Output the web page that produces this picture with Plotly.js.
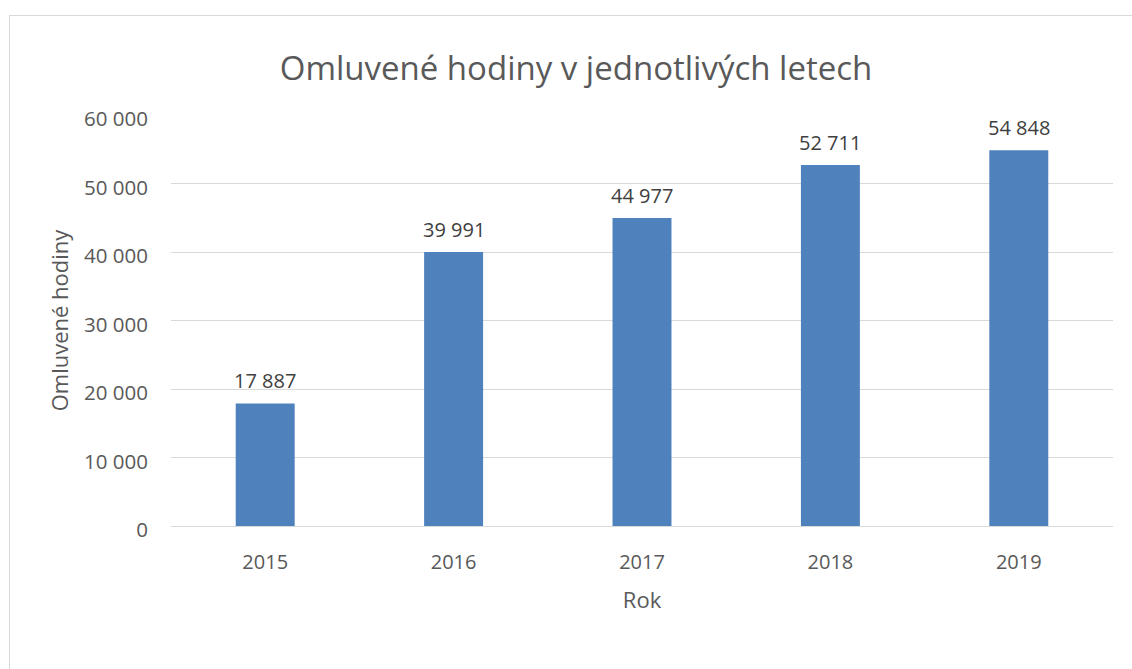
<!DOCTYPE html>
<html>
<head>
<meta charset="utf-8">
<script src="https://cdn.plot.ly/plotly-3.0.1.min.js"></script>
<style>
  html, body { margin: 0; padding: 0; background: #fff; }
  #wrap { position: relative; width: 1132px; height: 669px; overflow: hidden; }
  #frame { position: absolute; left: 9px; top: 15px; width: 1200px; height: 800px; border: 1px solid #d9d9d9; box-sizing: border-box; pointer-events: none; }
  #chart { position: absolute; left: 0; top: 0; width: 1132px; height: 669px; }
</style>
</head>
<body>
<div id="wrap">
  <div id="chart"></div>
  <div id="frame"></div>
</div>
<script>
const years = ['2015', '2016', '2017', '2018', '2019'];
const hours = [17887, 39991, 44977, 52711, 54848];
const yTicks = [0, 10000, 20000, 30000, 40000, 50000, 60000];

const fontFam = '"Open Sans", "Noto Sans", sans-serif';

const trace = {
  type: 'bar',
  x: years,
  y: hours,
  marker: { color: '#4f81bd' },
  hoverinfo: 'x+y'
};

const annotations = years.map((yr, i) => ({
  x: i,
  y: hours[i],
  xref: 'x',
  yref: 'y',
  text: hours[i].toLocaleString('en-US').replace(/,/g, ' '),
  showarrow: false,
  yanchor: 'bottom',
  yshift: 7,
  font: { family: fontFam, size: 20, color: '#404040' }
}));

const layout = {
  width: 1132,
  height: 669,
  margin: { l: 171, r: 18.5, t: 115, b: 143 },
  paper_bgcolor: 'rgba(0,0,0,0)',
  plot_bgcolor: 'rgba(0,0,0,0)',
  separators: ', ',
  showlegend: false,
  bargap: 0.687,
  font: { family: fontFam, color: '#595959' },
  title: {
    text: 'Omluvené hodiny v jednotlivých letech',
    font: { family: fontFam, size: 33, color: '#595959' },
    x: 576 / 1132, xref: 'container', xanchor: 'center',
    y: 1 - 68 / 669, yref: 'container', yanchor: 'middle'
  },
  xaxis: {
    type: 'category',
    range: [-0.5, 4.5],
    showgrid: false,
    showline: false,
    zeroline: false,
    ticks: '',
    ticklabelstandoff: 22,
    tickfont: { family: fontFam, size: 20, color: '#595959' },
    title: { text: 'Rok', font: { family: fontFam, size: 22, color: '#595959' }, standoff: 18 },
    automargin: false
  },
  yaxis: {
    range: [0, 60000],
    tickvals: yTicks,
    tickformat: ',d',
    showgrid: true,
    gridcolor: '#d9d9d9',
    gridwidth: 1,
    zeroline: true,
    zerolinecolor: '#d9d9d9',
    zerolinewidth: 1,
    showline: false,
    ticks: '',
    ticklabelstandoff: 22,
    ticklabelshift: 4,
    tickfont: { family: fontFam, size: 20.5, color: '#595959' },
    title: { text: 'Omluvené hodiny', font: { family: fontFam, size: 22, color: '#595959' }, standoff: 9 },
    automargin: false
  },
  annotations: annotations
};

Plotly.newPlot('chart', [trace], layout, { displayModeBar: false, staticPlot: true });
</script>
</body>
</html>
